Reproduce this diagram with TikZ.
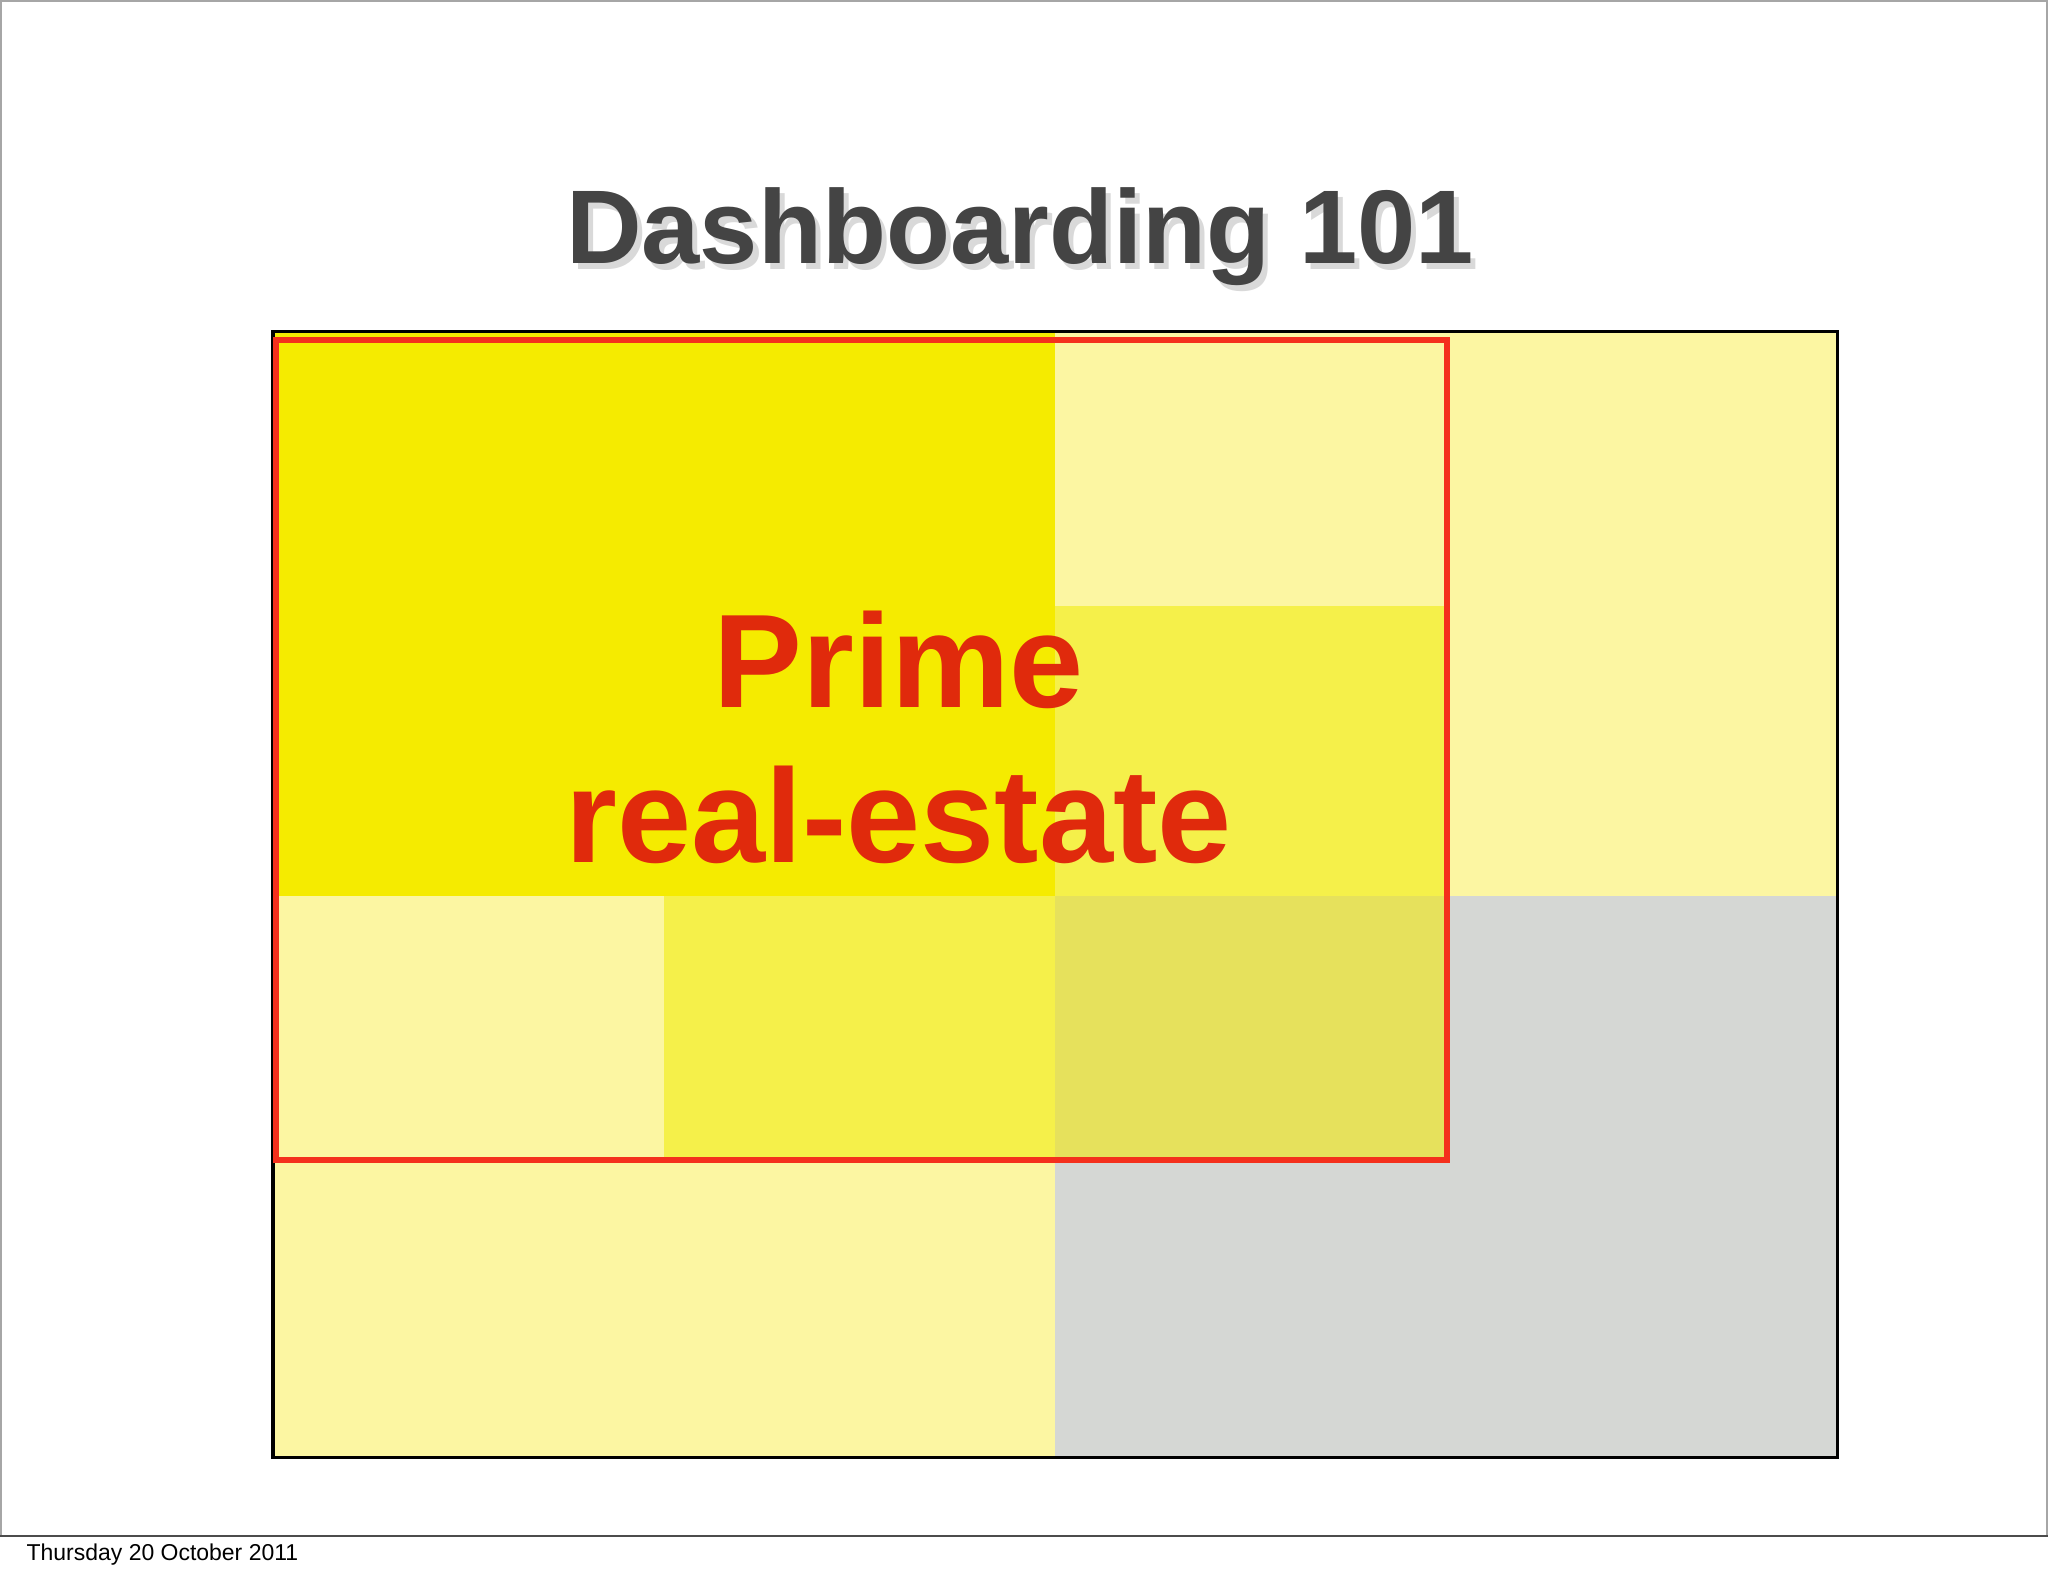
\documentclass[tikz,border=0pt]{standalone}
\usepackage{fontspec}
\setmainfont{Liberation Sans}
\definecolor{bright}{HTML}{F5EB00}
\definecolor{pale}{HTML}{FCF6A2}
\definecolor{mid}{HTML}{F5F04A}
\definecolor{mix}{HTML}{E6E15C}
\definecolor{grey}{HTML}{D5D7D4}
\definecolor{redline}{HTML}{F4301C}
\definecolor{redtext}{HTML}{E02A0C}
\definecolor{titlec}{HTML}{444444}
\tikzset{cell/.style={draw=none}}
\begin{document}
\begin{tikzpicture}[x=0.01cm,y=-0.01cm]
\useasboundingbox (0,0) rectangle (1568,1206);
\fill[white] (0,0) rectangle (1568,1206);
\draw[gray!70,line width=0.4pt] (0.5,1176) -- (0.5,0.5) -- (1567.5,0.5) -- (1567.5,1176);
\draw[black!70,line width=0.4pt] (0,1176) -- (1568,1176);
\node[anchor=west,font=\fontsize{5pt}{6pt}\selectfont] (date) at (8,1190) {Thursday 20 October 2011};
\node[font=\fontsize{22.8pt}{26pt}\selectfont\bfseries,text=black!15] at (785,186) {Dashboarding 101};
\node[font=\fontsize{22.8pt}{26pt}\selectfont\bfseries,text=titlec] (title) at (781,181) {Dashboarding 101};
% cells
\fill[cell,bright] (209,254) rectangle (808,686);
\fill[cell,pale] (808,254) rectangle (1107,464);
\fill[cell,pale] (1107,254) rectangle (1407,686);
\fill[cell,mid] (808,464) rectangle (1107,686);
\fill[cell,pale] (209,686) rectangle (508,886);
\fill[cell,mid] (508,686) rectangle (808,886);
\fill[cell,mix] (808,686) rectangle (1107,886);
\fill[cell,grey] (1107,686) rectangle (1407,1116);
\fill[cell,pale] (209,886) rectangle (808,1116);
\fill[cell,grey] (808,886) rectangle (1107,1116);
\draw[black,line width=0.7pt] (209,254) rectangle (1407,1116);
\draw[redline,line width=1.3pt] (211,260) rectangle (1108,888);
\node[font=\fontsize{29pt}{34pt}\selectfont\bfseries,text=redtext] (prime) at (688,505) {Prime};
\node[font=\fontsize{29pt}{34pt}\selectfont\bfseries,text=redtext] (real) at (688,624) {real-estate};
\end{tikzpicture}
\end{document}
